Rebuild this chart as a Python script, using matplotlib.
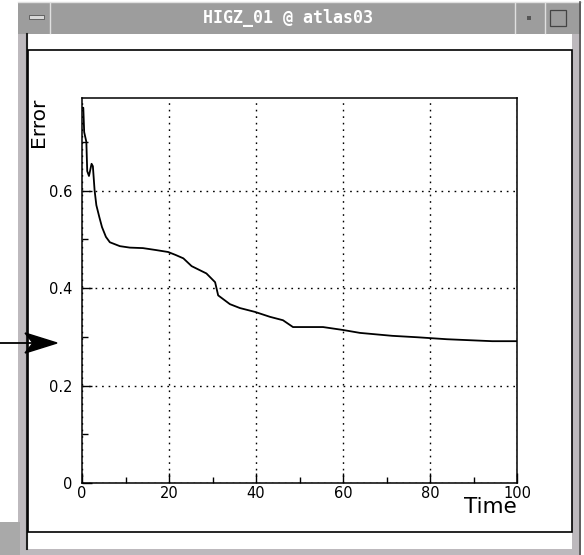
import numpy as np
import matplotlib
matplotlib.use("Agg")
import matplotlib.pyplot as plt
from matplotlib.patches import Rectangle, Polygon
from matplotlib.lines import Line2D
from matplotlib.ticker import MultipleLocator

# Error vs time
time = [0, 0.3, 0.5, 1.0, 1.2, 1.6, 2.2, 2.5, 2.9, 3.3, 4.0, 4.6, 5.5, 6.4,
        8.7, 11, 14, 17, 19.8, 21.5, 23.3, 25.2, 28.6, 30.6, 31.3, 32.2, 34,
        36.3, 39.8, 43.2, 46.2, 48.5, 55.4, 60, 63.9, 71.3, 77.2, 83.9, 94.3, 100]
error = [0.77, 0.77, 0.72, 0.70, 0.64, 0.63, 0.655, 0.65, 0.60, 0.57, 0.545,
         0.525, 0.505, 0.494, 0.486, 0.483, 0.482, 0.478, 0.474, 0.468, 0.461,
         0.445, 0.43, 0.412, 0.385, 0.379, 0.367, 0.359, 0.351, 0.341, 0.334,
         0.32, 0.32, 0.314, 0.308, 0.302, 0.299, 0.295, 0.291, 0.291]

xticks = [0, 20, 40, 60, 80, 100]
yticks = [0, 0.2, 0.4, 0.6]
yticklabels = ["0", "0.2", "0.4", "0.6"]
window_title = "HIGZ_01 @ atlas03"

W, H = 584, 555
fig = plt.figure(figsize=(W / 100, H / 100), dpi=100)
fig.patch.set_facecolor("white")


def fx(px):
    return px / W


def fy(py):
    return 1 - py / H


def box(x0, y0, x1, y1, z=-2, **kw):
    # rectangle given in pixel coords (top-left origin)
    r = Rectangle((fx(x0), fy(y1)), fx(x1) - fx(x0), fy(y0) - fy(y1),
                  transform=fig.transFigure, zorder=z, **kw)
    fig.add_artist(r)


def line(x0, y0, x1, y1, z=-1, **kw):
    fig.add_artist(Line2D([fx(x0), fx(x1)], [fy(y0), fy(y1)],
                          transform=fig.transFigure, zorder=z, **kw))


grey = "#a9a9a9"
frame = "#bdb9bd"

# window frame
box(18, 2, 581, 34, facecolor="#9d9d9d", edgecolor="none")
box(18, 34, 28, 555, facecolor=frame, edgecolor="none")
box(572, 34, 581, 555, facecolor=frame, edgecolor="none")
box(18, 549, 581, 555, facecolor=frame, edgecolor="none")
box(0, 522, 20, 555, facecolor=grey, edgecolor="none")
line(18, 2, 581, 2, color="#e0e0e0", lw=1)
line(50, 3, 50, 33, color="#e0e0e0", lw=1)
line(515, 3, 515, 33, color="#e0e0e0", lw=1)
line(545, 3, 545, 33, color="#e0e0e0", lw=1)
line(580, 2, 580, 555, color="#505050", lw=1.2)
box(29, 15, 44, 19, z=-1, facecolor="#d8d8d8", edgecolor="#555555", lw=0.6)
box(527, 16, 531, 20, z=-1, facecolor="#555555", edgecolor="none")
box(550, 10, 566, 26, z=-1, facecolor="none", edgecolor="#444444", lw=0.9)
box(28, 34, 572, 549, facecolor="white", edgecolor="none")
line(27, 34, 27, 549, color="#202020", lw=1.5)
box(28, 50, 572, 532, z=-1, facecolor="none", edgecolor="black", lw=1.2)
fig.text(fx(288), fy(18), window_title, color="white", fontsize=12,
         fontweight="bold", family="DejaVu Sans Mono", ha="center", va="center")

# arrow pointing at the plot
line(0, 343, 34, 343, z=3, color="black", lw=1.3)
fig.add_artist(Polygon([(fx(57), fy(343)), (fx(25), fy(333)), (fx(33), fy(343)),
                        (fx(25), fy(353))], closed=True, transform=fig.transFigure,
                       facecolor="black", edgecolor="black", zorder=3))

# the plot itself
ax = fig.add_axes([fx(82), fy(483), fx(517) - fx(82), fy(98) - fy(483)])
ax.set_zorder(2)
ax.plot(time, error, color="black", lw=1.3)
ax.set_xlim(0, 100)
ax.set_ylim(0, 0.79)
ax.set_xticks(xticks)
ax.set_yticks(yticks)
ax.set_yticklabels(yticklabels)
ax.xaxis.set_minor_locator(MultipleLocator(10))
ax.yaxis.set_minor_locator(MultipleLocator(0.1))
ax.tick_params(which="both", direction="in", top=False, right=False,
               labelsize=10.5, width=1)
ax.tick_params(axis="y", which="major", length=7, pad=7)
ax.tick_params(axis="x", which="major", length=7, pad=2)
ax.tick_params(which="minor", length=4)
for s in ax.spines.values():
    s.set_linewidth(1.1)
ax.grid(True, which="major", color="black", linestyle=(0, (1.2, 3.5)), lw=1)
ax.set_axisbelow(True)

fig.text(fx(38), fy(98), "Error", rotation=90, fontsize=14.5, ha="center",
         va="top")
fig.text(fx(517), fy(497), "Time", fontsize=15.5, ha="right", va="top")

fig.savefig("out.png", dpi=100)
